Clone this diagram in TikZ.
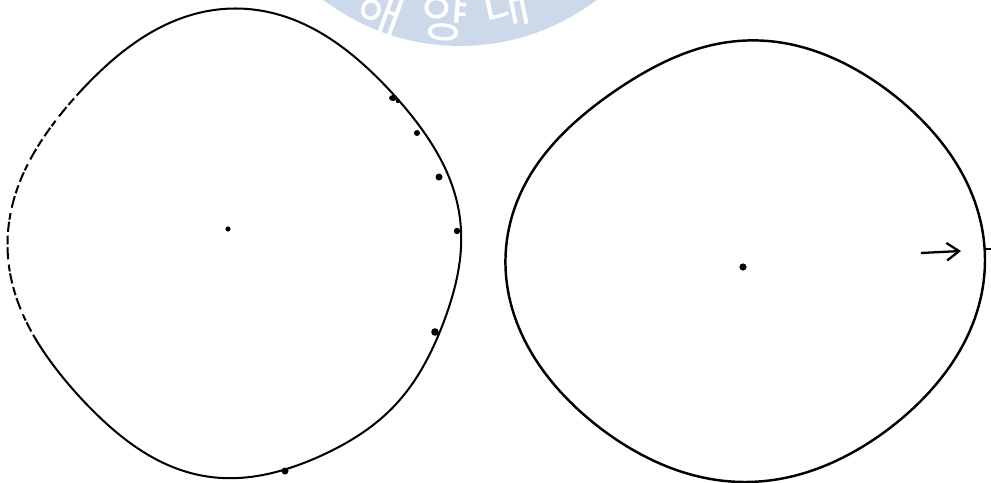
\documentclass[tikz,border=0pt]{standalone}
\usepackage{fontspec}
\newfontfamily\krfont{Noto Sans CJK KR}
\usetikzlibrary{arrows.meta}
\definecolor{wmblue}{RGB}{204,217,235}
\tikzset{
  declare function={
    rl(\t)=225-4*cos(2*\t)+7*cos(4*\t)*(1-1.2*((1+cos(\t-45))/2)^8);
    rr(\t)=227+9*cos(2*\t)+4*cos(4*\t)-8*((1+cos(\t-235))/2)^12;
  },
  contourA/.style={line width=1.15pt, line join=round},
  contourB/.style={line width=1.4pt, line join=round},
  gaps/.style={white, line width=2.3pt, dash pattern={on 2pt off 6pt on 1pt off 4pt on 3pt off 7pt on 1.5pt off 5pt}},
  blob/.style={fill=black},
  wmtext/.style={text=white, font=\krfont\fontsize{29}{29}\selectfont, inner sep=0pt},
  arrowline/.style={line width=1.3pt, -{Straight Barb[length=7pt,width=10pt,line width=1.3pt]}},
}
\begin{document}
\begin{tikzpicture}[x=0.02cm,y=-0.02cm]
\path[use as bounding box, clip] (0,0) rectangle (991,483);
% watermark seal
\fill[wmblue] (460,-180) circle[radius=4.52cm];
\node[wmtext, rotate=-20] (wmA) at (381,12) {해};
\node[wmtext, rotate=-4]  (wmB) at (444,18) {양};
\node[wmtext, rotate=12]  (wmC) at (506,5) {대};
% left contour
\coordinate (cL) at (235.5,244.5);
\draw[contourA] plot[domain=0:360, samples=181, smooth cycle]
  ({235.5+rl(\x)*cos(\x)}, {244.5+rl(\x)*sin(\x)});
% faded, broken part of the left side
\draw[gaps] plot[domain=156:224, samples=35, smooth]
  ({235.5+rl(\x)*cos(\x)}, {244.5+rl(\x)*sin(\x)});
% marks on the left contour
\fill[blob] (393,98) ellipse[x radius=4, y radius=3];
\fill[blob] (398,101) circle[radius=2.2];
\fill[blob] (417,133) circle[radius=3];
\fill[blob] (439,177) circle[radius=3.5];
\fill[blob] (457,231) circle[radius=3.2];
\fill[blob] (435,332) circle[radius=3.8];
\fill[blob] (285,471) circle[radius=3.5];
\fill[blob] (228,229) circle[radius=2.6];
% right contour
\draw[contourB] plot[domain=0:360, samples=181, smooth cycle]
  ({745+rr(\x)*cos(\x)}, {260+rr(\x)*sin(\x)});
\fill[blob] (743,267) circle[radius=3.6];
% arrow and tick at the right contour
\coordinate (arrS) at (921,253);
\coordinate (arrE) at (961,251);
\draw[arrowline] (arrS) -- (arrE);
\coordinate (tickS) at (984,249);
\coordinate (tickE) at (991,249);
\draw[line width=1.3pt] (tickS) -- (tickE);
\end{tikzpicture}
\end{document}
